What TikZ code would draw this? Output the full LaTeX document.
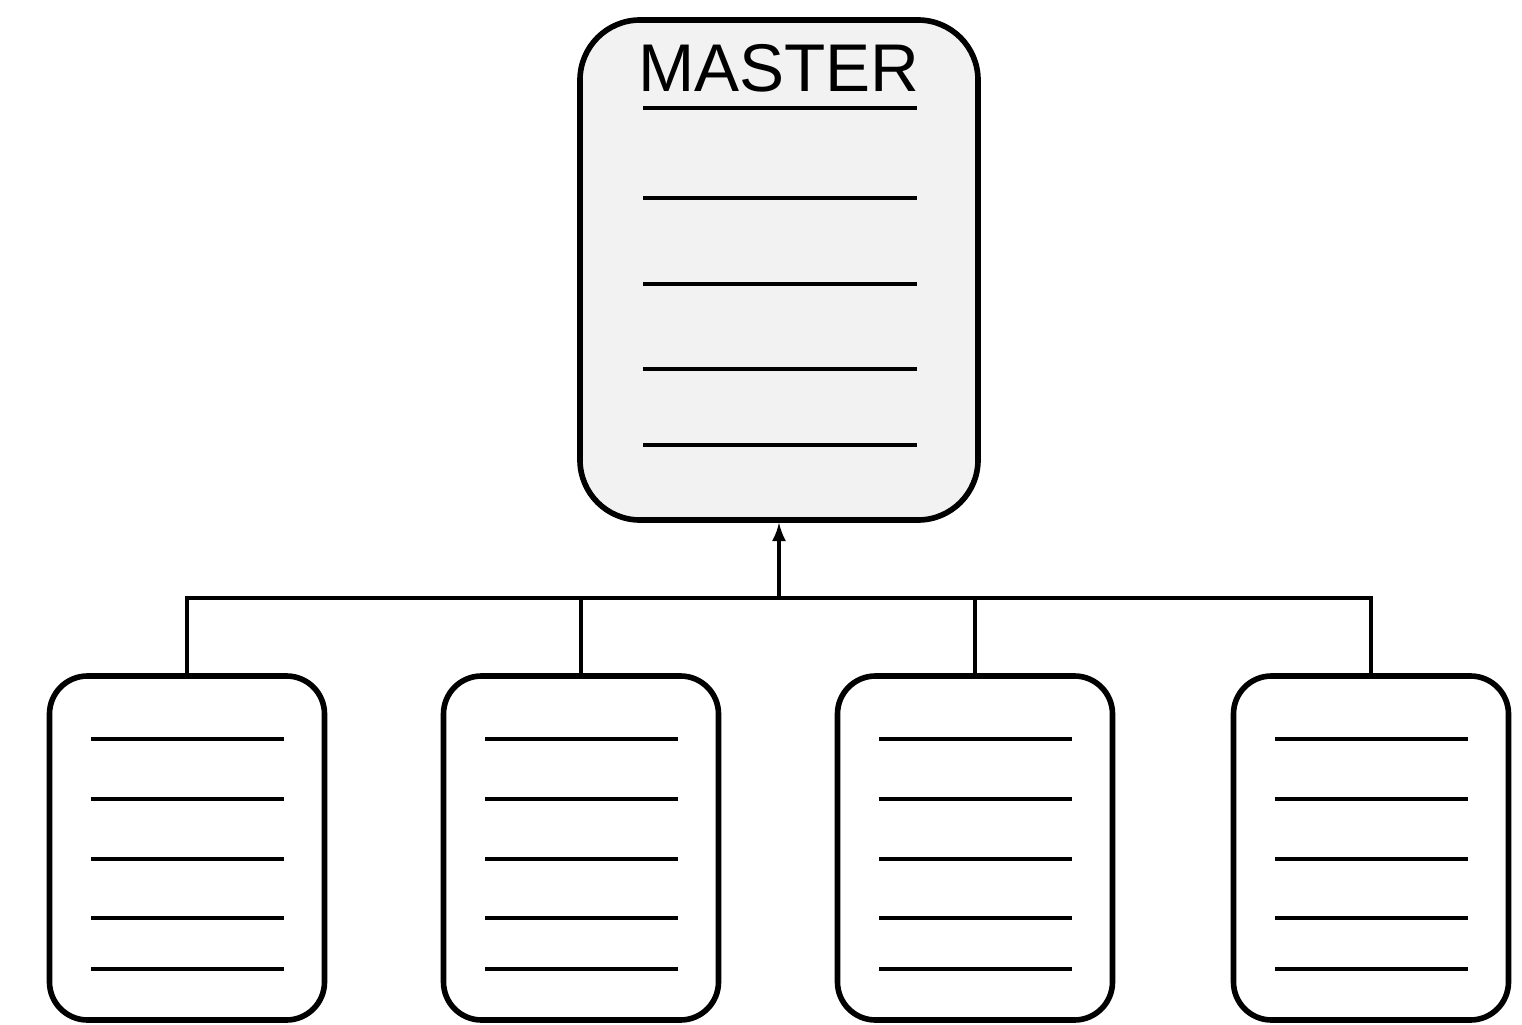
\documentclass[tikz,border=0pt]{standalone}
\usepackage{fontspec}
\setmainfont{Liberation Sans}
\usetikzlibrary{arrows, calc}

% one unit = one pixel of the drawing
\def\px{0.025cm}

\begin{document}
\begin{tikzpicture}[
  x=\px,
  y=-\px,
  master/.style={draw, line width=4pt, fill=black!5, rounded corners=1.5cm,
    minimum width=398*\px, minimum height=500*\px},
  slave/.style={draw, line width=4pt, fill=white, rounded corners=0.95cm,
    minimum width=275*\px, minimum height=344*\px},
  rule/.style={line width=2.8pt},
  bus/.style={line width=2.6pt},
  feed/.style={line width=3.4pt, -latex}
  ]
    \useasboundingbox (0,0) rectangle (1522,1025);

    % Master record
    \node[master] (master) at (779,270) {};
    \node[anchor=base, inner sep=0pt, font=\fontsize{48}{52}\selectfont] (title) at (779,92) {MASTER};
    \draw[line width=3.2pt] ($(master.center)+(-136,-162)$) -- +(274,0);
    \draw[rule] ($(master.center)+(-136,-72)$) -- +(274,0);
    \draw[rule] ($(master.center)+(-136,14)$) -- +(274,0);
    \draw[rule] ($(master.center)+(-136,99)$) -- +(274,0);
    \draw[rule] ($(master.center)+(-136,175)$) -- +(274,0);

    % the four records below
    \node[slave] (s1) at (187,848) {};
    \node[slave] (s2) at (581,848) {};
    \node[slave] (s3) at (975,848) {};
    \node[slave] (s4) at (1371,848) {};

% record 1
\draw[rule] ($(s1.center)+(-96,-109)$) -- +(193,0);
\draw[rule] ($(s1.center)+(-96,-49)$) -- +(193,0);
\draw[rule] ($(s1.center)+(-96,11)$) -- +(193,0);
\draw[rule] ($(s1.center)+(-96,70)$) -- +(193,0);
\draw[rule] ($(s1.center)+(-96,121)$) -- +(193,0);

% record 2
\draw[rule] ($(s2.center)+(-96,-109)$) -- +(193,0);
\draw[rule] ($(s2.center)+(-96,-49)$) -- +(193,0);
\draw[rule] ($(s2.center)+(-96,11)$) -- +(193,0);
\draw[rule] ($(s2.center)+(-96,70)$) -- +(193,0);
\draw[rule] ($(s2.center)+(-96,121)$) -- +(193,0);

% record 3
\draw[rule] ($(s3.center)+(-96,-109)$) -- +(193,0);
\draw[rule] ($(s3.center)+(-96,-49)$) -- +(193,0);
\draw[rule] ($(s3.center)+(-96,11)$) -- +(193,0);
\draw[rule] ($(s3.center)+(-96,70)$) -- +(193,0);
\draw[rule] ($(s3.center)+(-96,121)$) -- +(193,0);

% record 4
\draw[rule] ($(s4.center)+(-96,-109)$) -- +(193,0);
\draw[rule] ($(s4.center)+(-96,-49)$) -- +(193,0);
\draw[rule] ($(s4.center)+(-96,11)$) -- +(193,0);
\draw[rule] ($(s4.center)+(-96,70)$) -- +(193,0);
\draw[rule] ($(s4.center)+(-96,121)$) -- +(193,0);

    % bus into the master
    \coordinate (hub) at (779,598);
    \draw[bus] (s1) |- (hub);
    \draw[bus] (s2) |- (hub);
    \draw[bus] (s3) |- (hub);
    \draw[bus] (s4) |- (hub);
    \draw[feed] (hub) -- (master);

\end{tikzpicture}
\end{document}
